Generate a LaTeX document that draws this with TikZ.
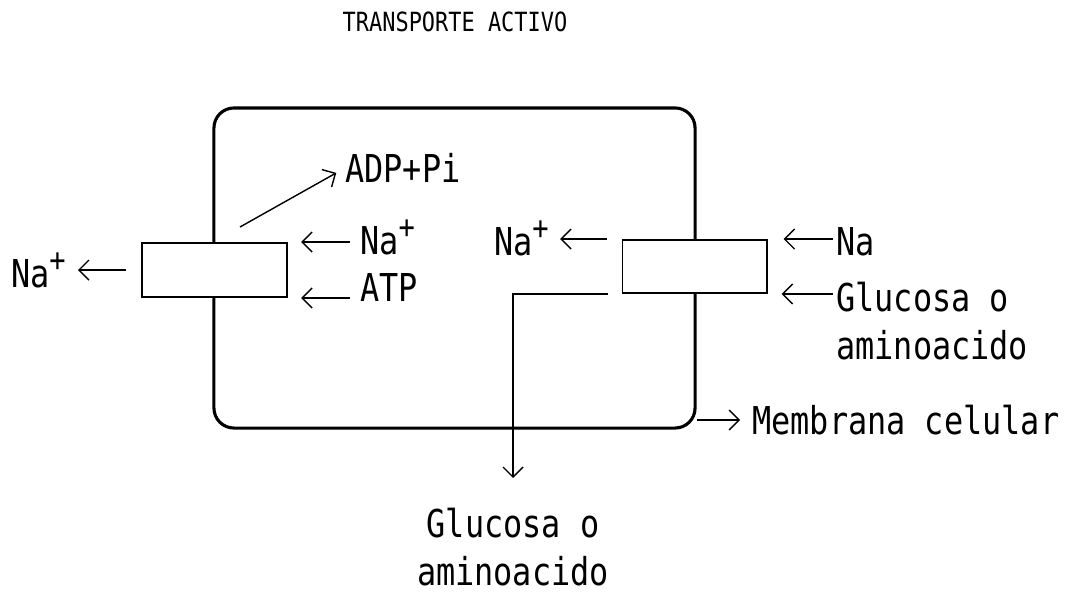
\documentclass[tikz,border=0pt]{standalone}
\usepackage{fontspec}
\setmonofont[FakeStretch=0.83]{DejaVu Sans Mono}
\usetikzlibrary{arrows.meta}
\newcommand{\sodium}{Na\raisebox{.42em}{\scalebox{.85}{+}}}

\begin{document}
\begin{tikzpicture}[x=0.025cm, y=-0.025cm,
    lbl/.style={font=\ttfamily\fontsize{27.3}{34}\selectfont, inner sep=0pt},
    pump/.style={draw, fill=white, line width=1.4pt},
    flow/.style={-{Straight Barb[length=0.25cm,width=0.5cm]}, line width=1pt}]
    \useasboundingbox (0,0) rectangle (1069,598);
    % Title
    \node[font=\ttfamily\fontsize{18.8}{20}\selectfont] (title) at (455,22) {TRANSPORTE ACTIVO};

    % Cell membrane and the two carriers
    \node[draw, line width=2.2pt, rounded corners=0.5cm, minimum width=12.025cm, minimum height=8cm] (cell) at (454.5,268) {};
    \node[pump, minimum width=3.625cm, minimum height=1.35cm] (pumpL) at (214.5,270) {};
    \node[pump, minimum width=3.6cm, minimum height=1.325cm] (pumpR) at (694.5,266.5) {};

    % Labels
    \node[lbl, anchor=east] (naOut) at (66,270) {\sodium};
    \node[lbl, anchor=west] (naInL) at (360,237) {\sodium};
    \node[lbl, anchor=west] (atp) at (360,288) {ATP};
    \node[lbl, anchor=west] (adp) at (345,168) {ADP+Pi};
    \node[lbl, anchor=east] (naInR) at (549,238) {\sodium};
    \node[lbl, anchor=west] (naExt) at (836,242) {Na};
    \node[lbl, anchor=north west, align=left] (gluExt) at (836,282) {Glucosa o\\aminoacido};
    \node[lbl, anchor=north, align=center] (gluInt) at (513,508) {Glucosa o\\aminoacido};
    \node[lbl, anchor=west] (memb) at (752,420) {Membrana celular};
    \coordinate (adpStart) at (240,227);

    % Left carrier
    \draw[flow, shorten <=0.375cm, shorten >=0.3cm] (pumpL.west) -- (naOut.east |- pumpL.west);
    \draw[flow, shorten <=0.25cm, shorten >=0.33cm] (naInL.west |- pumpL.north east) -- (pumpL.north east);
    \draw[flow, shorten <=0.25cm, shorten >=0.33cm] (atp.west |- pumpL.south east) -- (pumpL.south east);
    \draw[flow, shorten >=0.25cm] (adpStart) -- (adp.west);

    % Right carrier
    \draw[flow, shorten <=0.375cm, shorten >=0.28cm] (pumpR.north west) -- (naInR.east |- pumpR.north west);
    \draw[flow, shorten <=0.08cm, shorten >=0.4cm] (naExt.west |- pumpR.north east) -- (pumpR.north east);
    \draw[flow, shorten <=0.08cm, shorten >=0.35cm] (gluExt.north west |- pumpR.south east) -- (pumpR.south east);
    \draw[flow, shorten >=0.75cm] ([xshift=-0.35cm]pumpR.south west) -| (gluInt.north);

    % Membrane label
    \draw[flow, shorten >=0.3cm] (cell.east |- memb.west) -- (memb.west);
\end{tikzpicture}
\end{document}
